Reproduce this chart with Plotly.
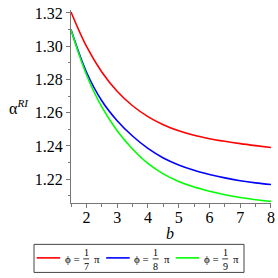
import plotly.graph_objects as go

b_vals = [1.5, 2.0, 2.5, 3.0, 3.5, 4.0, 4.5, 5.0, 5.5, 6.0, 6.5, 7.0, 7.5, 8.0]
alpha_pi7 = [1.3206, 1.3000, 1.2845, 1.2729, 1.2642, 1.2577, 1.2528, 1.2491, 1.2464, 1.2444,
             1.2428, 1.2414, 1.2402, 1.2391]
alpha_pi8 = [1.3100, 1.2845, 1.2672, 1.2552, 1.2460, 1.2385, 1.2328, 1.2286, 1.2254, 1.2229,
             1.2208, 1.2191, 1.2178, 1.2168]
alpha_pi9 = [1.3098, 1.2830, 1.2635, 1.2492, 1.2382, 1.2295, 1.2232, 1.2186, 1.2153, 1.2128,
             1.2107, 1.2090, 1.2077, 1.2067]
phi_denoms = [7, 8, 9]
series_names = ["ϕ = 1/7 π", "ϕ = 1/8 π", "ϕ = 1/9 π"]
series_colors = ["#ff0000", "#0000ff", "#00ff00"]
x_ticks = [2, 3, 4, 5, 6, 7, 8]
y_ticks = [1.22, 1.24, 1.26, 1.28, 1.30, 1.32]
y_tick_text = ["1.22", "1.24", "1.26", "1.28", "1.30", "1.32"]

W, H = 278, 278
ML, MR, MT, MB = 71, 7, 10, 75.3
PW, PH = W - ML - MR, H - MT - MB


def px(x):
    return (x - ML) / PW


def py(y):
    return (H - MB - y) / PH


fig = go.Figure()
for ys, name, col in zip([alpha_pi7, alpha_pi8, alpha_pi9], series_names, series_colors):
    fig.add_trace(go.Scatter(x=b_vals, y=ys, mode="lines", name=name, showlegend=False,
                             line=dict(color=col, width=1.6, shape="spline", smoothing=1.0)))

serif = "Liberation Serif"
axcol = "#777777"

shapes = [dict(type="rect", xref="paper", yref="paper", x0=px(34), x1=px(244), y0=py(272), y1=py(244),
               line=dict(color="#444444", width=1), fillcolor="white", layer="above")]
annotations = [
    dict(text="α<sup><i>RI</i></sup>", xref="paper", yref="paper", x=-0.2625, y=0.50,
         xanchor="center", yanchor="middle", showarrow=False,
         font=dict(family=serif, size=16, color="black")),
    dict(text="<i>b</i>", xref="paper", yref="paper", x=0.495, y=-0.16,
         xanchor="center", yanchor="middle", showarrow=False,
         font=dict(family=serif, size=16, color="black")),
]

legend_y = 257.5
for i, (den, col) in enumerate(zip(phi_denoms, series_colors)):
    x0 = 36.7 + i * 69.5
    shapes.append(dict(type="line", xref="paper", yref="paper", x0=px(x0), x1=px(x0 + 23.5),
                       y0=py(legend_y), y1=py(legend_y), line=dict(color=col, width=1.6), layer="above"))
    annotations.append(dict(text="ϕ =", xref="paper", yref="paper", x=px(x0 + 26), y=py(legend_y + 1),
                            xanchor="left", yanchor="middle", showarrow=False,
                            font=dict(family=serif, size=11, color="black")))
    fx = x0 + 49.5
    annotations.append(dict(text="1", xref="paper", yref="paper", x=px(fx), y=py(252.5),
                            xanchor="center", yanchor="middle", showarrow=False,
                            font=dict(family=serif, size=10, color="black")))
    annotations.append(dict(text=str(den), xref="paper", yref="paper", x=px(fx), y=py(266.5),
                            xanchor="center", yanchor="middle", showarrow=False,
                            font=dict(family=serif, size=10, color="black")))
    shapes.append(dict(type="line", xref="paper", yref="paper", x0=px(fx - 3), x1=px(fx + 3),
                       y0=py(legend_y + 1), y1=py(legend_y + 1), line=dict(color="black", width=0.8),
                       layer="above"))
    annotations.append(dict(text="π", xref="paper", yref="paper", x=px(fx + 6), y=py(legend_y + 1),
                            xanchor="left", yanchor="middle", showarrow=False,
                            font=dict(family=serif, size=11, color="black")))

fig.update_layout(
    width=W, height=H,
    margin=dict(l=ML, r=MR, t=MT, b=MB, autoexpand=False),
    paper_bgcolor="white", plot_bgcolor="white",
    font=dict(family=serif, color="black", size=16),
    showlegend=False,
    xaxis=dict(range=[1.5, 8.0005], tickvals=x_ticks, showline=True, linecolor=axcol, linewidth=1,
               ticks="outside", ticklen=4, tickcolor=axcol, showgrid=False, zeroline=False,
               ticklabeloverflow="allow", ticklabelstandoff=-4,
               tickfont=dict(family=serif, size=16, color="black"),
               minor=dict(dtick=0.5, ticks="outside", ticklen=2.5, tickcolor=axcol, showgrid=False)),
    yaxis=dict(range=[1.2057, 1.3218], tickvals=y_ticks, ticktext=y_tick_text, showline=True,
               linecolor=axcol, linewidth=1, ticks="outside", ticklen=4, tickcolor=axcol,
               showgrid=False, zeroline=False, tickfont=dict(family=serif, size=16, color="black"),
               minor=dict(dtick=0.01, tick0=1.21, ticks="outside", ticklen=2.5, tickcolor=axcol, showgrid=False)),
    shapes=shapes,
    annotations=annotations,
)

fig.write_html("out.html", config={"displayModeBar": False},
               post_script="document.body.style.margin='0px';")
